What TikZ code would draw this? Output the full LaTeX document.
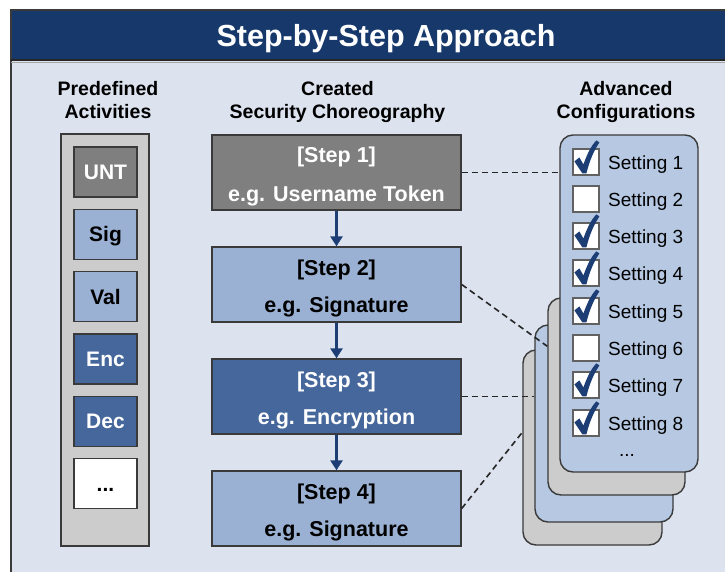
\documentclass[tikz,border=0pt]{standalone}
\usepackage{fontspec}
\setmainfont{Liberation Sans}
\usetikzlibrary{arrows.meta,calc}

\definecolor{navy}{HTML}{16386A}
\definecolor{bgpanel}{HTML}{DCE2EE}
\definecolor{panelgray}{HTML}{CCCCCC}
\definecolor{stepgray}{HTML}{7F7F7F}
\definecolor{steplight}{HTML}{9BB1D3}
\definecolor{stepdark}{HTML}{46679B}
\definecolor{cardblue}{HTML}{B6C8E2}
\definecolor{checknavy}{HTML}{1C3E75}
\definecolor{edge}{HTML}{3A3A3A}

\begin{document}
\begin{tikzpicture}[x=1pt,y=-1pt,
  box/.style={draw=edge, line width=1.4pt, inner sep=0pt},
  actbox/.style={box, minimum width=63pt, minimum height=50pt,
    text height=15pt, text depth=0pt,
    font=\fontsize{21}{21}\selectfont\bfseries},
  stepbox/.style={box, minimum width=249pt, minimum height=75pt},
  steptext/.style={anchor=base, inner sep=0pt,
    font=\fontsize{21.5}{21.5}\selectfont\bfseries},
  card/.style={draw=edge, line width=1.4pt, rounded corners=13pt, inner sep=0pt},
  head/.style={anchor=base, inner sep=0pt,
    font=\fontsize{19.5}{19.5}\selectfont\bfseries},
  setting/.style={anchor=base west, inner sep=0pt,
    font=\fontsize{19}{19}\selectfont},
  chkbox/.style={draw=edge!80, fill=white, line width=1.2pt,
    minimum size=26pt, inner sep=0pt},
  flow/.style={draw=checknavy, line width=2.5pt,
    -{Triangle[width=12pt,length=10pt]}},
  link/.style={draw=black!85, line width=1.6pt, dash pattern=on 6pt off 4pt},
  pics/tick/.style={code={
    \fill[checknavy] (2,13) -- (7,9) -- (11,16)
      .. controls (15,5) and (19,-3) .. (24,-8) -- (27,-6)
      .. controls (21,3) and (17,13) .. (14,25) -- (10,25) -- cycle;}}
]
\useasboundingbox (0,0) rectangle (725,571);
\clip (0,0) rectangle (725,571);
\fill[white] (0,0) rectangle (725,571);

% frame and title bar
\fill[bgpanel] (11,10) rectangle (740,580);
\fill[navy] (11,10) rectangle (740,60);
\draw[edge, line width=2pt] (11,10) rectangle (740,580);
\draw[black!85, line width=2pt] (11,60) -- (740,60);
\draw[black!35, line width=1pt] (11,62) -- (740,62);
\node[anchor=base, inner sep=0pt, text=white,
  font=\fontsize{30.5}{30.5}\selectfont\bfseries] (title) at (386,46) {Step-by-Step Approach};

% column headings
\node[head] (h1a) at (108,95) {Predefined};
\node[head] (h1b) at (108,118) {Activities};
\node[head] (h2a) at (337.5,95) {Created};
\node[head] (h2b) at (337.5,118) {Security Choreography};
\node[head] (h3a) at (626,95) {Advanced};
\node[head] (h3b) at (626,118) {Configurations};

% predefined activities
\node[box, fill=panelgray, minimum width=88pt, minimum height=412pt] (panel) at (105,340) {};
\node[actbox, fill=stepgray, text=white] (a1) at (105.5,172) {UNT};
\node[actbox, fill=steplight] (a2) at (105.5,234.3) {Sig};
\node[actbox, fill=steplight] (a3) at (105.5,296.6) {Val};
\node[actbox, fill=stepdark, text=white] (a4) at (105.5,358.9) {Enc};
\node[actbox, fill=stepdark, text=white] (a5) at (105.5,421.2) {Dec};
\node[actbox, fill=white] (a6) at (105.5,483.5) {...};

% security choreography steps
\node[stepbox, fill=stepgray] (s1) at (336.5,172.5) {};
\node[stepbox, fill=steplight] (s2) at (336.5,284.5) {};
\node[stepbox, fill=stepdark] (s3) at (336.5,396.5) {};
\node[stepbox, fill=steplight] (s4) at (336.5,508.5) {};

\node[steptext, text=white] (s1a) at ([yshift=-28pt]s1.north) {[Step 1]};
\node[steptext, text=white] (s1b) at ([yshift=-67pt]s1.north) {e.g. Username Token};
\node[steptext] (s2a) at ([yshift=-29pt]s2.north) {[Step 2]};
\node[steptext] (s2b) at ([yshift=-66pt]s2.north) {e.g. Signature};
\node[steptext, text=white] (s3a) at ([yshift=-29pt]s3.north) {[Step 3]};
\node[steptext, text=white] (s3b) at ([yshift=-66pt]s3.north) {e.g. Encryption};
\node[steptext] (s4a) at ([yshift=-29pt]s4.north) {[Step 4]};
\node[steptext] (s4b) at ([yshift=-66pt]s4.north) {e.g. Signature};

\draw[flow] (s1.south) -- (s2.north);
\draw[flow] (s2.south) -- (s3.north);
\draw[flow] (s3.south) -- (s4.north);

% stack of configuration cards, back to front
\node[card, fill=panelgray, minimum width=139pt, minimum height=195pt] (card4) at (592.5,447.5) {};
\node[card, fill=cardblue, minimum width=138pt, minimum height=197pt] (card3) at (604,423.5) {};
\node[card, fill=panelgray, minimum width=137pt, minimum height=197pt] (card2) at (616.5,396.5) {};
\node[card, fill=cardblue, minimum width=138pt, minimum height=337pt] (card1) at (629,303.5) {};

% dashed links from steps to their configurations
\coordinate (l2end) at ($(card2.north west)+(0,49)$);
\coordinate (l4end) at ($(card4.north west)+(0,83)$);
\draw[link] (s1.east) -- (s1.east -| card1.west);
\draw[link] (s2.east) -- (l2end);
\draw[link] (s3.east) -- (s3.east -| card3.west);
\draw[link] (s4.east) -- (l4end);

% settings with check boxes
\foreach \i/\y in {1/162,2/199,3/236,4/273,5/311,6/348,7/385,8/423}{
  \node[chkbox] (cb\i) at (586,\y) {};
  \node[setting] (st\i) at (608,\y+7) {Setting \i};
}
\foreach \i in {1,3,4,5,7,8}{
  \pic at (cb\i.north west) {tick};
}
\node[anchor=base, inner sep=0pt, font=\fontsize{19}{19}\selectfont] (more) at (627,456) {...};
\end{tikzpicture}
\end{document}
